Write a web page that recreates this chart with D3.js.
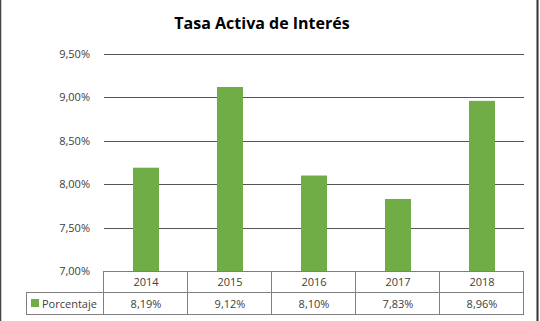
<!DOCTYPE html>
<html><head><meta charset="utf-8">
<script src="https://cdn.jsdelivr.net/npm/d3@7"></script>
<style>html,body{margin:0;padding:0;background:#fff;}svg{display:block;}</style>
</head><body>
<script>
const categories = ["2014","2015","2016","2017","2018"];
const values = [8.19, 9.12, 8.10, 7.83, 8.96];
const valueLabels = ["8,19%","9,12%","8,10%","7,83%","8,96%"];
const yTicks = [7.0, 7.5, 8.0, 8.5, 9.0, 9.5];
const seriesName = "Porcentaje";
const title = "Tasa Activa de Interés";

(function(){
const W = 540, H = 321;
const svg = d3.select("body").append("svg").attr("width", W).attr("height", H);
const font = "'Open Sans', 'Noto Sans', sans-serif";

// outer borders
svg.append("line").attr("x1",0.5).attr("x2",0.5).attr("y1",0).attr("y2",H).attr("stroke","#444").attr("stroke-width",1.5);
svg.append("line").attr("x1",537.5).attr("x2",537.5).attr("y1",0).attr("y2",H).attr("stroke","#333").attr("stroke-width",2);

const pLeft = 104, pRight = 524, pTop = 54, pBottom = 271;
const x = d3.scaleBand().domain(categories).range([pLeft, pRight]).paddingInner(0).paddingOuter(0);
const y = d3.scaleLinear().domain([7.0, 9.5]).range([pBottom, pTop]);

svg.append("text").attr("x", 262).attr("y", 29).attr("text-anchor","middle")
  .attr("font-family", font).attr("font-weight","bold").attr("font-size",16).attr("fill","#000").text(title);

// gridlines
svg.append("g").selectAll("line").data(yTicks.filter(t=>t>7.0)).join("line")
  .attr("x1", pLeft).attr("x2", pRight)
  .attr("y1", d=>Math.round(y(d))+0.5).attr("y2", d=>Math.round(y(d))+0.5)
  .attr("stroke","#555").attr("stroke-width",1);

// y labels
const fmt = d => d3.format(".2f")(d).replace(".", ",") + "%";
svg.append("g").selectAll("text").data(yTicks).join("text")
  .attr("x", 90).attr("y", d=>y(d)+4).attr("text-anchor","end")
  .attr("font-family", font).attr("font-size",11).attr("fill","#404040").text(fmt);

// bars
const bw = 26;
svg.append("g").selectAll("rect").data(values).join("rect")
  .attr("x", (d,i)=>x(categories[i]) + x.bandwidth()/2 - bw/2)
  .attr("y", d=>y(d)).attr("width", bw).attr("height", d=>pBottom - y(d))
  .attr("fill","#70AD47");

// table
const r1 = pBottom, r2 = 292, r3 = 314, legL = 26;
const tg = svg.append("g").attr("stroke","#7f7f7f").attr("stroke-width",1).attr("fill","none");
tg.append("line").attr("x1",pLeft).attr("x2",pRight).attr("y1",r1+0.5).attr("y2",r1+0.5);
tg.append("line").attr("x1",legL).attr("x2",pRight).attr("y1",r2+0.5).attr("y2",r2+0.5);
tg.append("line").attr("x1",legL).attr("x2",pRight).attr("y1",r3+0.5).attr("y2",r3+0.5);
tg.append("line").attr("x1",legL+0.5).attr("x2",legL+0.5).attr("y1",r2).attr("y2",r3);
const bounds = categories.map(c=>x(c)).concat([pRight]);
tg.selectAll("line.v").data(bounds).join("line").attr("class","v")
  .attr("x1",d=>Math.round(d)-0.5).attr("x2",d=>Math.round(d)-0.5).attr("y1",r1).attr("y2",r3);

svg.append("g").selectAll("text").data(categories).join("text")
  .attr("x", d=>x(d)+x.bandwidth()/2).attr("y", r1+15).attr("text-anchor","middle")
  .attr("font-family", font).attr("font-size",11).attr("fill","#404040").text(d=>d);
svg.append("g").selectAll("text").data(valueLabels).join("text")
  .attr("x", (d,i)=>x(categories[i])+x.bandwidth()/2).attr("y", r2+16).attr("text-anchor","middle")
  .attr("font-family", font).attr("font-size",11).attr("fill","#404040").text(d=>d);

svg.append("rect").attr("x",31).attr("y",r2+7).attr("width",8).attr("height",8).attr("fill","#70AD47");
svg.append("text").attr("x",42).attr("y",r2+16).attr("font-family",font).attr("font-size",11)
  .attr("fill","#404040").text(seriesName);
})();
</script>
</body></html>
